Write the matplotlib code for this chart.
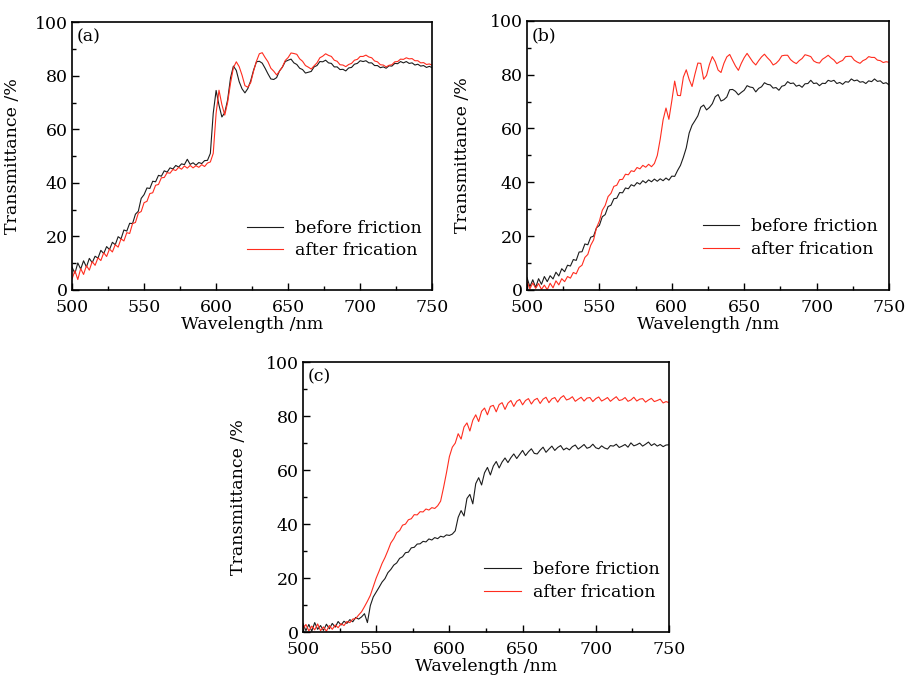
import numpy as np
import matplotlib
matplotlib.use("Agg")
import matplotlib.pyplot as plt
from matplotlib.ticker import MultipleLocator

plt.rcParams["font.family"] = ["DejaVu Serif"]
plt.rcParams["mathtext.fontset"] = "dejavuserif"

# === Data (2 nm steps) ===
wavelength = np.arange(500, 751, 2)

# (a)
a_before = [
    8.5, 6.2, 10.1, 7.8, 10.9, 8.6, 11.8, 10.2, 12.6, 11.9,
    14.8, 13.6, 16.2, 15.1, 17.8, 16.9, 19.9, 19.1, 22.4, 22.0,
    24.9, 24.8, 28.3, 29.4, 34.2, 35.6, 38.1, 37.9, 40.6, 40.4,
    42.8, 42.5, 44.5, 44.0, 45.6, 45.2, 46.5, 45.9, 47.1, 46.8,
    48.8, 46.9, 47.5, 46.6, 47.6, 47.2, 48.3, 48.4, 51.0, 66.0,
    74.5, 69.0, 64.6, 66.2, 71.0, 79.2, 83.6, 82.0, 77.8, 75.1,
    73.6, 75.2, 78.1, 82.1, 85.2, 85.4, 84.7, 82.8, 80.7, 78.8,
    78.6, 79.3, 81.8, 83.2, 85.3, 85.8, 86.2, 84.8, 84.2, 82.8,
    82.3, 81.0, 81.3, 81.6, 83.3, 83.8, 85.3, 85.2, 85.8, 84.8,
    84.6, 83.3, 83.3, 82.3, 82.4, 81.8, 82.9, 83.1, 84.3, 84.6,
    85.6, 85.3, 85.6, 84.8, 84.8, 83.8, 83.8, 83.0, 83.3, 82.8,
    83.7, 83.6, 84.6, 84.5, 85.3, 84.8, 85.3, 84.6, 84.8, 84.0,
    84.3, 83.6, 83.8, 83.1, 83.5, 83.0,
]
a_after = [
    4.1, 7.2, 3.9, 8.0, 5.8, 9.1, 7.4, 10.6, 9.2, 12.0,
    11.0, 13.9, 12.5, 15.3, 14.2, 16.9, 16.0, 19.1, 18.3, 21.4,
    21.1, 24.8, 25.2, 28.7, 29.3, 32.6, 33.1, 36.0, 36.3, 39.1,
    39.4, 41.9, 42.0, 43.8, 43.6, 45.0, 44.6, 45.8, 45.1, 46.3,
    45.5, 46.5, 45.6, 46.4, 45.8, 46.8, 46.1, 47.4, 47.8, 51.0,
    66.0, 74.6, 69.2, 65.3, 70.1, 77.2, 83.0, 85.2, 83.4, 80.2,
    76.3, 75.7, 77.4, 81.7, 85.4, 88.2, 88.6, 86.8, 85.2, 82.8,
    81.7, 80.3, 81.7, 83.3, 85.7, 86.8, 88.5, 88.3, 88.0, 86.3,
    85.4, 83.8, 83.2, 82.5, 83.7, 84.8, 86.7, 87.3, 88.2, 87.6,
    87.2, 85.8, 85.4, 84.1, 84.0, 83.4, 84.2, 84.6, 85.8, 86.1,
    87.2, 87.2, 87.7, 87.0, 86.7, 85.5, 85.2, 84.1, 84.0, 83.3,
    83.9, 84.1, 85.2, 85.3, 86.2, 86.1, 86.7, 86.3, 86.4, 85.6,
    85.6, 84.8, 84.9, 84.2, 84.4, 83.9,
]

# (b)
b_before = [
    4.6, 1.2, 3.8, 0.9, 4.2, 2.1, 5.0, 3.1, 5.3, 4.1,
    6.6, 5.2, 7.9, 6.8, 9.2, 8.9, 11.3, 11.0, 14.1, 14.2,
    17.1, 16.8, 19.6, 20.0, 23.1, 24.0, 27.2, 28.0, 31.0, 31.5,
    33.9, 34.1, 36.2, 36.1, 37.9, 37.6, 39.1, 38.6, 39.9, 39.3,
    40.6, 39.8, 40.9, 40.2, 41.2, 40.4, 41.3, 40.6, 41.6, 40.8,
    42.3, 42.2, 44.4, 46.3, 49.3, 52.8, 58.3, 61.2, 62.9, 64.7,
    67.9, 68.7, 66.9, 67.8, 69.2, 71.8, 72.6, 70.2, 70.7, 71.7,
    74.4, 74.5, 73.8, 72.5, 73.4, 74.2, 75.9, 75.4, 75.2, 73.6,
    74.9, 75.5, 77.0, 76.4, 76.2, 75.0, 75.2, 74.2, 75.7, 76.0,
    77.4, 76.7, 76.9, 75.7, 76.1, 75.3, 76.6, 76.7, 77.9, 76.7,
    76.9, 75.9, 76.8, 76.7, 77.9, 77.5, 77.9, 76.7, 77.1, 76.4,
    77.4, 77.2, 78.4, 77.7, 78.0, 77.2, 77.4, 76.7, 77.7, 77.4,
    78.4, 77.5, 77.7, 76.7, 77.0, 76.2,
]
b_after = [
    3.2, 0.4, 2.6, 0.6, 2.4, 0.2, 1.8, 0.1, 2.5, 0.8,
    3.4, 1.9, 4.2, 3.1, 5.0, 4.4, 6.5, 6.0, 8.4, 9.2,
    12.1, 13.2, 16.6, 18.6, 23.1, 25.6, 29.6, 31.4, 34.7, 35.9,
    38.5, 38.9, 41.0, 41.1, 43.0, 42.8, 44.3, 44.0, 45.5, 45.0,
    46.3, 45.6, 46.7, 45.8, 47.0, 50.0, 56.0, 63.2, 67.6, 63.4,
    70.2, 77.6, 72.3, 72.2, 79.1, 81.8, 78.2, 75.6, 80.2, 84.3,
    84.2, 78.3, 79.7, 83.8, 86.7, 84.8, 81.7, 80.8, 84.2, 86.6,
    87.5, 85.3, 83.2, 81.6, 84.2, 86.3, 87.9, 86.3, 84.7, 83.6,
    85.2, 86.6, 87.6, 86.3, 85.2, 83.6, 84.2, 85.3, 87.0, 87.2,
    87.2, 85.6, 84.7, 84.1, 85.2, 86.0, 87.4, 87.1, 86.7, 85.1,
    84.5, 84.3, 85.7, 86.4, 87.2, 86.2, 85.4, 84.1, 84.8, 85.3,
    86.7, 86.8, 86.8, 85.4, 84.7, 84.2, 85.2, 85.7, 86.7, 86.4,
    86.4, 85.4, 85.2, 84.5, 84.8, 84.6,
]

# (c)
c_before = [
    3.1, 0.5, 2.8, 0.3, 3.5, 1.0, 2.4, 0.6, 2.9, 1.2,
    3.2, 1.8, 3.9, 2.6, 4.0, 3.2, 4.6, 3.8, 5.4, 4.8,
    5.6, 6.8, 3.5, 9.8, 13.0, 14.8, 16.6, 18.5, 19.8, 22.0,
    23.2, 24.8, 25.6, 27.3, 27.9, 29.4, 29.6, 31.2, 31.4, 32.6,
    32.7, 33.6, 33.4, 34.5, 34.1, 35.0, 34.6, 35.5, 35.2, 36.0,
    35.8, 36.3, 37.5, 42.5, 45.0, 43.0, 49.5, 51.0, 47.5, 55.0,
    57.2, 54.5, 59.0, 61.0, 58.2, 61.5, 63.2, 60.8, 63.0, 64.5,
    62.8, 64.6, 66.0, 64.3, 65.8, 67.3, 65.4, 66.8, 67.9, 66.2,
    66.0, 67.4, 68.5, 66.6, 67.8, 68.9, 67.3, 68.4, 69.1, 67.5,
    68.2, 67.5, 68.7, 69.3, 67.8, 68.6, 69.5, 68.1, 68.5, 69.6,
    68.3, 67.9, 69.0, 68.2, 67.8, 69.1, 68.9, 69.6, 68.4, 68.9,
    69.5, 68.5, 70.1, 69.0, 69.4, 70.0, 68.9, 69.6, 70.4, 69.1,
    69.8, 68.9, 69.5, 68.7, 69.3, 69.4,
]
c_after = [
    1.2, 2.8, 0.4, 2.2, 0.8, 3.0, 0.5, 1.9, 0.3, 2.4,
    1.0, 2.6, 1.6, 3.1, 2.4, 3.9, 3.5, 4.8, 5.0, 6.3,
    7.5, 9.4, 11.4, 13.6, 16.8, 20.0, 22.6, 25.4, 27.6, 30.2,
    33.0, 34.6, 36.8, 37.6, 39.6, 40.0, 41.6, 42.0, 43.5, 43.4,
    44.6, 44.5, 45.6, 45.2, 46.1, 45.8, 46.8, 48.5, 53.5, 59.0,
    65.0, 68.5, 70.0, 73.5, 71.5, 76.0, 77.5, 74.5, 78.5, 80.5,
    78.0, 81.8, 83.0, 80.5, 83.6, 84.0, 81.6, 84.3, 85.0, 82.5,
    84.8, 85.8, 83.6, 85.5, 86.2, 84.2, 85.8, 86.5, 84.5, 86.0,
    86.6, 84.7, 86.3, 87.0, 85.0, 86.4, 86.9, 85.2, 86.8, 87.6,
    86.0, 86.4, 87.2, 85.5, 86.3, 87.0, 85.6, 86.7, 86.9, 85.4,
    86.5, 87.1, 85.6, 86.2, 86.9, 85.5, 86.4, 87.2, 85.8, 86.1,
    86.9, 85.5, 86.0, 87.0, 85.6, 86.3, 86.5, 85.2, 86.0, 86.6,
    85.4, 85.8, 86.3, 84.9, 85.4, 85.0,
]

labels = ["before friction", "after frication"]
BLACK = "#1c1c1c"
RED = "#ff2d1f"

# (panel tag, before, after, axes rect, legend anchor, ylabel x)
panels = [
    ("(a)", a_before, a_after, [0.0796, 0.5723, 0.398, 0.395], (0.972, 0.188), -0.143),
    ("(b)", b_before, b_after, [0.5823, 0.5723, 0.400, 0.397], (0.970, 0.193), -0.156),
    ("(c)", c_before, c_after, [0.3348, 0.0678, 0.4044, 0.398], (0.975, 0.189), -0.152),
]

fig = plt.figure(figsize=(9.05, 6.78), dpi=100)

for tag, before, after, rect, leg_pos, ylab_x in panels:
    ax = fig.add_axes(rect)
    ax.plot(wavelength, before, color=BLACK, lw=0.8, label=labels[0])
    ax.plot(wavelength, after, color=RED, lw=0.8, label=labels[1])
    ax.set_xlim(500, 750)
    ax.set_ylim(0, 100)
    ax.xaxis.set_major_locator(MultipleLocator(50))
    ax.xaxis.set_minor_locator(MultipleLocator(25))
    ax.yaxis.set_major_locator(MultipleLocator(20))
    ax.yaxis.set_minor_locator(MultipleLocator(10))
    ax.tick_params(which="both", direction="in", labelsize=12.5, width=1.0)
    ax.tick_params(which="major", length=5)
    ax.tick_params(which="minor", length=3)
    ax.tick_params(axis="x", pad=6.5)
    ax.tick_params(axis="y", pad=3)
    for sp in ax.spines.values():
        sp.set_linewidth(1.2)
    ax.set_xlabel("Wavelength /nm", fontsize=12.5, labelpad=0)
    ax.set_ylabel("Transmittance /%", fontsize=12.5)
    ax.yaxis.set_label_coords(ylab_x, 0.5)
    ax.text(0.012, 0.945, tag, transform=ax.transAxes, fontsize=12.5,
            ha="left", va="center")
    ax.legend(loc="center right", bbox_to_anchor=leg_pos, frameon=False,
              fontsize=12.5, handlelength=2.1, handletextpad=0.7,
              labelspacing=0.3, borderpad=0, borderaxespad=0)

fig.savefig("out.png", dpi=100)
